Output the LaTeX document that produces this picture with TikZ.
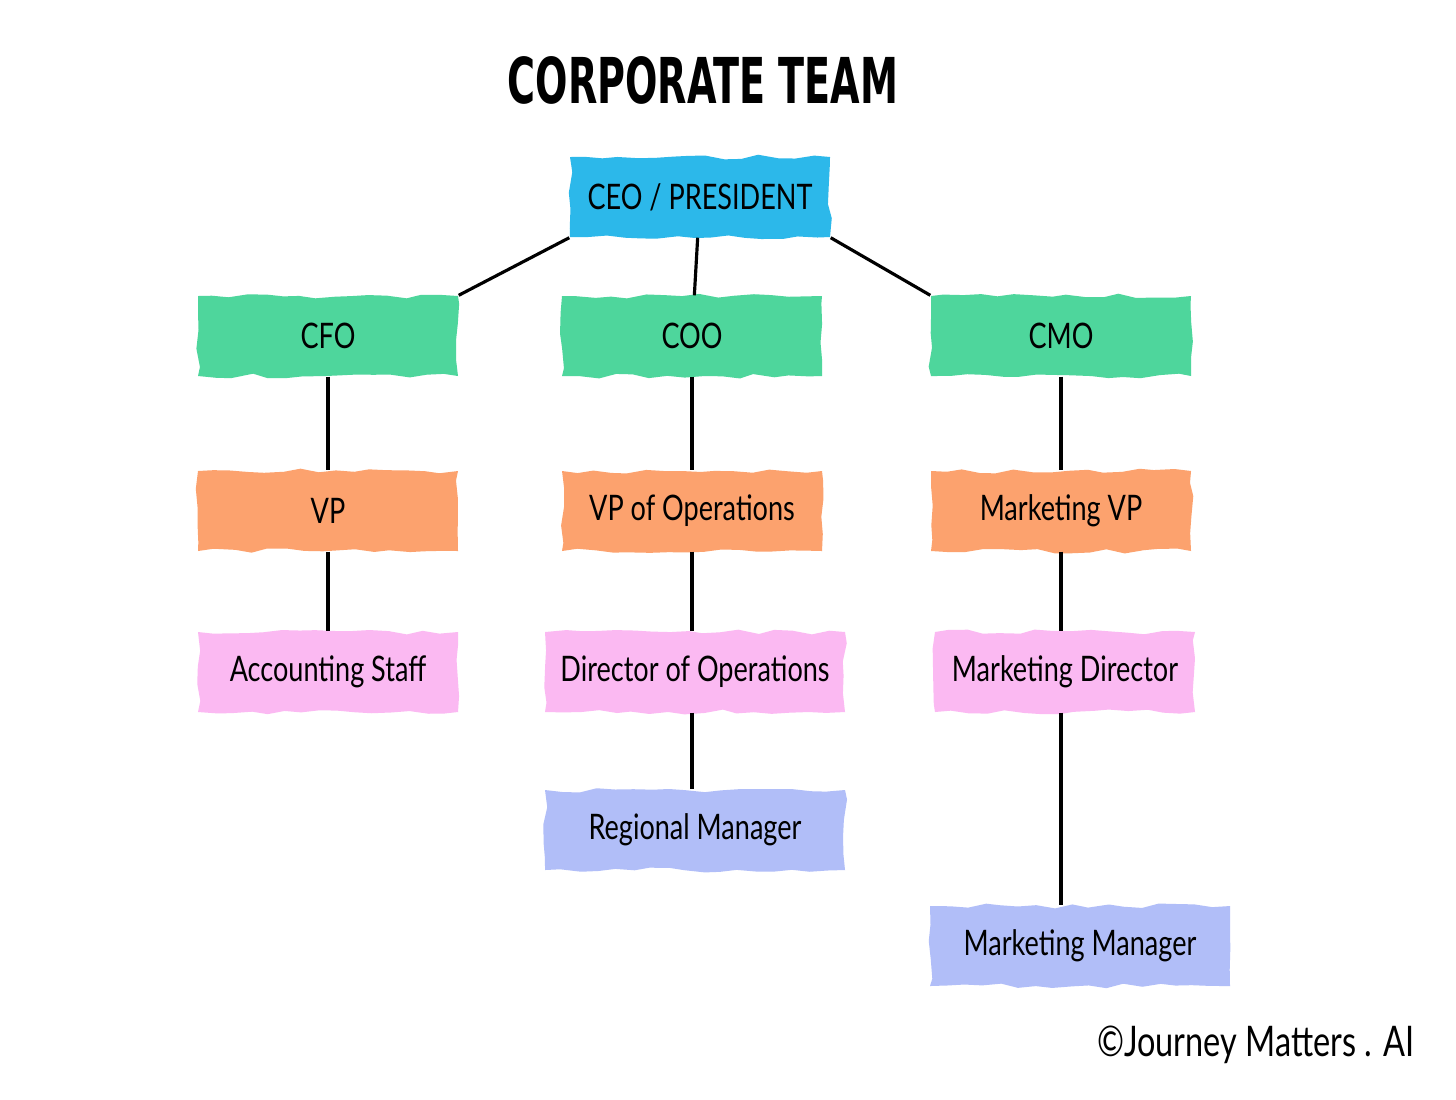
\documentclass[tikz,border=0pt]{standalone}
\usepackage{fontspec}
\setmainfont{Lato}[FakeStretch=0.77]
\newfontfamily\titlefont{DejaVu Sans Condensed}[FakeStretch=0.67]
\usetikzlibrary{decorations.pathmorphing}
\definecolor{topblue}{HTML}{2CB8EA}
\definecolor{chiefgreen}{HTML}{4ED69C}
\definecolor{vporange}{HTML}{FCA26E}
\definecolor{staffpink}{HTML}{FBB9F2}
\definecolor{mgrlilac}{HTML}{B1BEF8}
\tikzset{
  brush/.style={decorate,decoration={random steps,segment length=5pt,amplitude=.7pt},
    minimum width=2.6cm,minimum height=.8cm,inner sep=0pt,
    font=\fontsize{10}{12}\selectfont},
  wide/.style={minimum width=3cm},
  link/.style={line width=.9pt}
}
\begin{document}
\begin{tikzpicture}[y=-1cm]
\useasboundingbox[fill=white] (0,0) rectangle (14.56,10.99);
\node (title) at (7.03,.8) {\titlefont\bfseries\fontsize{18}{20}\selectfont CORPORATE TEAM};
\node[brush,fill=topblue] (ceo) at (7,1.97) {CEO / PRESIDENT};
\node[brush,fill=chiefgreen] (cfo) at (3.28,3.36) {CFO};
\node[brush,fill=chiefgreen] (coo) at (6.92,3.36) {COO};
\node[brush,fill=chiefgreen] (cmo) at (10.61,3.36) {CMO};
\node[brush,fill=vporange] (vp) at (3.28,5.11) {VP};
\node[brush,fill=vporange] (vpops) at (6.92,5.11) {VP of Operations};
\node[brush,fill=vporange] (mktvp) at (10.61,5.11) {Marketing VP};
\node[brush,fill=staffpink] (acct) at (3.28,6.72) {Accounting Staff};
\node[brush,wide,fill=staffpink] (dirops) at (6.95,6.72) {Director of Operations};
\node[brush,fill=staffpink] (mktdir) at (10.65,6.72) {Marketing Director};
\node[brush,wide,fill=mgrlilac] (regmgr) at (6.95,8.3) {Regional Manager};
\node[brush,wide,fill=mgrlilac] (mktmgr) at (10.8,9.46) {Marketing Manager};
\draw[link] (ceo.south west) -- (cfo.north east);
\draw[link] (ceo) -- (coo);
\draw[link] (ceo.south east) -- (cmo.north west);
\draw[link] (cfo) -- (vp); \draw[link] (vp) -- (acct);
\draw[link] (coo) -- (vpops); \draw[link] (vpops.south) -- (vpops.south |- dirops.north);
\draw[link] (vpops.south |- dirops.south) -- (vpops.south |- regmgr.north);
\draw[link] (cmo) -- (mktvp); \draw[link] (mktvp.south) -- (mktvp.south |- mktdir.north);
\draw[link] (mktvp.south |- mktdir.south) -- (mktvp.south |- mktmgr.north);
\node[anchor=east,inner sep=0pt] (credit) at (14.15,10.45) {\fontsize{12}{14}\selectfont ©Journey Matters . AI};
\end{tikzpicture}
\end{document}
